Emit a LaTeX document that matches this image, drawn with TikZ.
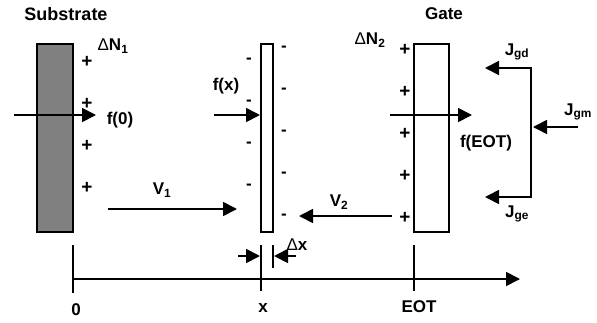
\documentclass[tikz,border=0pt]{standalone}
\usepackage{fontspec}
\setmainfont{Liberation Sans}
\usetikzlibrary{arrows.meta}
\newcommand{\dlt}{{\mdseries Δ}}
\tikzset{
  line/.style={line width=1.7pt},
  arrowline/.style={line, -{Triangle[length=14pt, width=14pt]}},
  layer/.style={draw, line width=1.7pt, inner sep=0pt, outer sep=0pt},
  label/.style={font=\fontsize{17}{19}\selectfont\bfseries, inner sep=0pt},
  plus/.style={font=\fontsize{19}{15}\selectfont\bfseries, inner sep=0pt},
  minus/.style={font=\fontsize{17}{15}\selectfont\bfseries, inner sep=0pt},
}
\begin{document}
\begin{tikzpicture}[x=1pt, y=-1pt]
  \useasboundingbox (0,0) rectangle (597,322);
  \fill[white] (0,0) rectangle (597,322);
  % the three layers
  \node[layer, fill=black!50, minimum width=36pt, minimum height=188pt] (substrate) at (55,138) {};
  \node[layer, fill=white, minimum width=12pt, minimum height=188pt] (film) at (267,138) {};
  \node[layer, fill=white, minimum width=35pt, minimum height=188pt] (gate) at (431.5,138) {};
  % charges
  \foreach \y in {62,104,146,188}
    \node[plus] (plusA\y) at (87,\y) {+};
  \foreach \y in {61,103,145,187}
    \node[minus] (minusA\y) at (249,\y) {-};
  \foreach \y in {49,91,133,175,217}
    \node[minus] (minusB\y) at (284,\y) {-};
  \foreach \y in {50,92,134,176,218}
    \node[plus] (plusB\y) at (405,\y) {+};
  % labels
  \node[label, font=\fontsize{18}{19}\selectfont\bfseries] (substratelabel) at (66,14) {Substrate};
  \node[label] (gatelabel) at (444,14) {Gate};
  \node[label] (dnone) at (113,46) {\dlt N\textsubscript{1}};
  \node[label] (dntwo) at (370,40) {\dlt N\textsubscript{2}};
  \node[label] (fzero) at (120,120) {f(0)};
  \node[label] (fx) at (226,86) {f(x)};
  \node[label] (feot) at (486,143) {f(EOT)};
  \node[label] (vone) at (162,190) {V\textsubscript{1}};
  \node[label] (vtwo) at (339,202) {V\textsubscript{2}};
  \node[label] (jgd) at (517,52) {J\textsubscript{gd}};
  \node[label] (jgm) at (578,112) {J\textsubscript{gm}};
  \node[label] (jge) at (517,214) {J\textsubscript{ge}};
  \node[label] (dx) at (297,245) {\dlt x};
  \node[label] (zero) at (76,310) {0};
  \node[label] (xpos) at (263,308) {x};
  \node[label] (eot) at (419,307) {EOT};
  % free ends
  \coordinate (fzeroA) at (14,115);   \coordinate (fzeroB) at (96,115);
  \coordinate (fxA) at (214,115);     \coordinate (fxB) at (260,115);
  \coordinate (feotA) at (390,115);   \coordinate (feotB) at (472,115);
  \coordinate (voneA) at (108,209);   \coordinate (voneB) at (237,209);
  \coordinate (vtwoA) at (392,216);   \coordinate (vtwoB) at (299,216);
  \coordinate (jtop) at (531,68);     \coordinate (jbot) at (531,197);
  \coordinate (jgdB) at (485,68);     \coordinate (jgeB) at (485,197);
  \coordinate (jgmA) at (578,127);    \coordinate (jgmB) at (533,127);
  \coordinate (axisA) at (73,279);    \coordinate (axisB) at (520,279);
  \coordinate (dxA) at (238,256);     \coordinate (dxB) at (260,256);
  \coordinate (dxC) at (296,256);     \coordinate (dxD) at (274,256);
  % arrows
  \draw[arrowline] (fzeroA) -- (fzeroB);
  \draw[arrowline] (fxA) -- (fxB);
  \draw[arrowline] (feotA) -- (feotB);
  \draw[arrowline] (voneA) -- (voneB);
  \draw[arrowline] (vtwoA) -- (vtwoB);
  \draw[line, line cap=rect] (jtop) -- (jbot);
  \draw[arrowline] (jtop) -- (jgdB);
  \draw[arrowline] (jbot) -- (jgeB);
  \draw[arrowline] (jgmA) -- (jgmB);
  \draw[arrowline] (axisA) -- (axisB);
  \draw[arrowline] (dxA) -- (dxB);
  \draw[arrowline] (dxC) -- (dxD);
  % ticks
  \foreach \x/\ylow in {73/293,261/291,414/291,273/268}
    \draw[line] (\x,245) -- (\x,\ylow);
\end{tikzpicture}
\end{document}
